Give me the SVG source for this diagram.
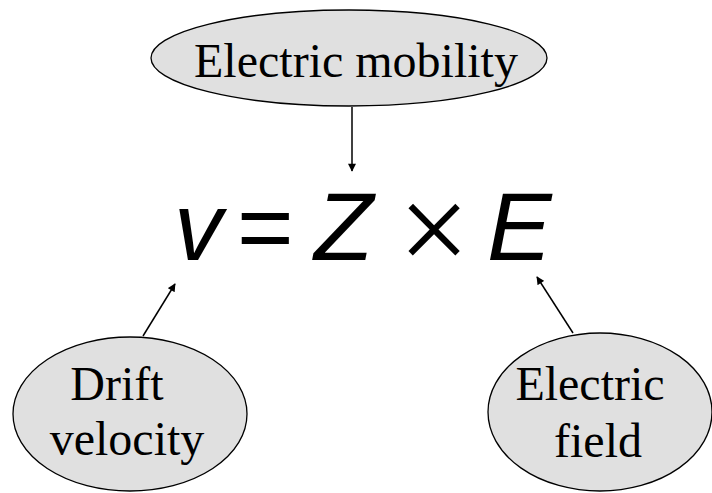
<svg xmlns="http://www.w3.org/2000/svg" width="712" height="493" viewBox="0 0 712 493">
<style>
.node{fill:#e0e0e0;stroke:#000;stroke-width:1.3}
.lbl{font-family:"Liberation Serif",serif;font-size:48px;fill:#000;text-anchor:middle}
.eq{font-family:"Liberation Sans",Arial,sans-serif;font-size:97px;fill:#000}
.it{font-style:italic}
.times{font-family:"Liberation Serif",serif;font-size:126px;fill:#000;text-anchor:middle}
.conn{stroke:#000;stroke-width:1.5;fill:none;marker-end:url(#ah)}
</style>
<defs>
<marker id="ah" viewBox="0 0 10 10" refX="9" refY="5" markerWidth="9" markerHeight="8" orient="auto" markerUnits="userSpaceOnUse">
<path d="M0,0 L10,5 L0,10 Z" fill="#000"/>
</marker>
</defs>
<rect width="712" height="493" fill="#fff"/>
<g id="mobility">
<ellipse class="node" cx="349" cy="58" rx="198" ry="48"/>
<text class="lbl" x="356" y="77">Electric mobility</text>
</g>
<g id="drift">
<ellipse class="node" cx="130" cy="414" rx="117" ry="77"/>
<text class="lbl" x="117" y="400">Drift</text>
<text class="lbl" x="127" y="455">velocity</text>
</g>
<g id="field">
<ellipse class="node" cx="600" cy="412" rx="112" ry="79"/>
<text class="lbl" x="590" y="400">Electric</text>
<text class="lbl" x="598" y="457">field</text>
</g>
<g id="equation">
<text class="eq it" x="174" y="260">v</text>
<text class="eq" x="237" y="260">=</text>
<text class="eq it" x="314" y="260">Z</text>
<text class="times" x="434" y="272">×</text>
<text class="eq it" x="487" y="260">E</text>
</g>
<g id="connectors">
<line class="conn" x1="352" y1="107" x2="352" y2="171"/>
<line class="conn" x1="143" y1="336" x2="175" y2="284"/>
<line class="conn" x1="573" y1="333" x2="537" y2="277"/>
</g>
</svg>
